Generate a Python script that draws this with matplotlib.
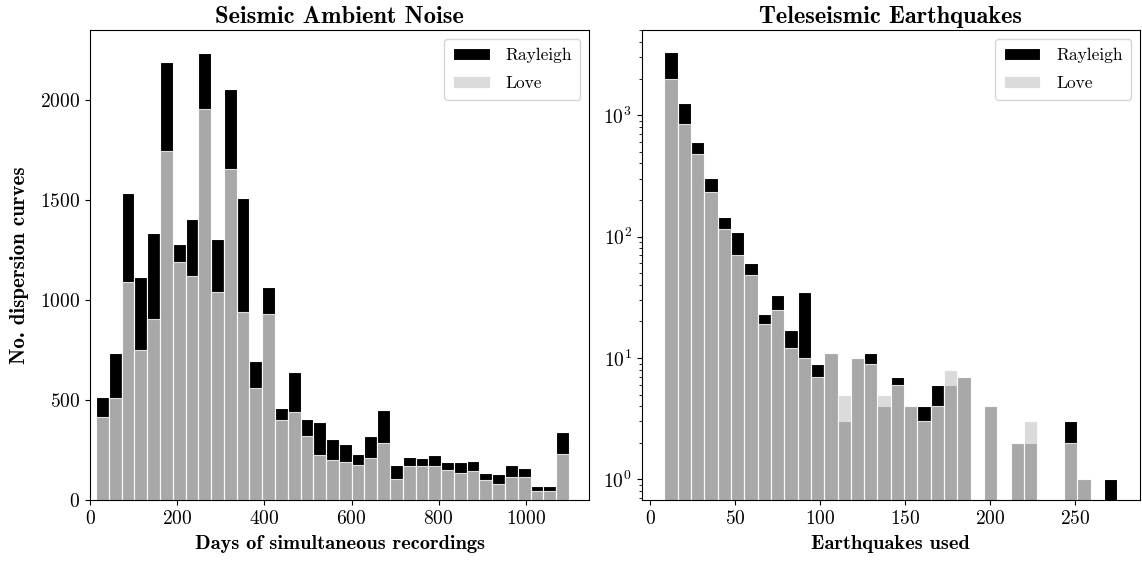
import numpy as np
import matplotlib
matplotlib.use("Agg")
import matplotlib.pyplot as plt

plt.rcParams['font.family'] = ['cmr10', 'DejaVu Serif']
plt.rcParams['mathtext.fontset'] = 'cm'
plt.rcParams['axes.formatter.use_mathtext'] = True
plt.rcParams['axes.unicode_minus'] = False

# ---- Data: Seismic ambient noise (days of simultaneous recordings) ----
noise_bin_start = 14.0
noise_bin_end = 1128.0
noise_rayleigh = [518, 737, 1535, 1117, 1335, 2190, 1280, 1405, 2237, 1305, 2055, 1510,
                  695, 1067, 462, 640, 408, 390, 305, 280, 232, 320, 452, 177, 215, 213,
                  227, 193, 190, 197, 135, 132, 177, 162, 73, 73, 342, 0]
noise_love = [418, 512, 1093, 752, 905, 1747, 1190, 1120, 1955, 1042, 1657, 943,
              560, 932, 402, 442, 320, 227, 202, 192, 178, 212, 287, 108, 172, 172,
              172, 152, 138, 148, 102, 80, 118, 118, 48, 48, 232, 7]

# ---- Data: Teleseismic earthquakes (earthquakes used) ----
eq_bin_start = 8.3
eq_bin_end = 275.0
eq_rayleigh = [3305, 1248, 603, 301, 145, 109, 60, 23, 33, 17, 35, 9, 11, 3, 10, 11, 4,
               7, 4, 4, 6, 6, 7, 0, 4, 0, 2, 2, 0, 0, 3, 1, 0, 1]
eq_love = [1980, 848, 477, 233, 115, 70, 48, 19, 25, 12, 10, 7, 11, 5, 10, 9, 5,
           6, 4, 3, 4, 8, 7, 0, 4, 0, 2, 3, 0, 0, 2, 1, 0, 0]

titles = ["Seismic Ambient Noise", "Teleseismic Earthquakes"]
xlabels = ["Days of simultaneous recordings", "Earthquakes used"]
ylabel = "No. dispersion curves"

fig = plt.figure(figsize=(11.42, 5.61), dpi=100)
ax1 = fig.add_axes([0.0788, 0.108, 0.4370, 0.8385])
ax2 = fig.add_axes([0.5619, 0.108, 0.4363, 0.8385])

LOVE_COLOR = '#d3d3d3'
LOVE_ALPHA = 0.8
BOLD = ['cmb10', 'DejaVu Serif']


def draw(ax, start, end, ray, love):
    ray = np.asarray(ray, float)
    love = np.asarray(love, float)
    edges = np.linspace(start, end, len(ray) + 1)
    left = edges[:-1]
    w = np.diff(edges)
    mr = ray > 0
    ml = love > 0
    ax.bar(left[mr], ray[mr], width=w[mr], align='edge', color='black',
           edgecolor='white', linewidth=0.8, label='Rayleigh')
    ax.bar(left[ml], love[ml], width=w[ml], align='edge', color=LOVE_COLOR,
           alpha=LOVE_ALPHA, edgecolor='white', linewidth=0.8, label='Love')


draw(ax1, noise_bin_start, noise_bin_end, noise_rayleigh, noise_love)
draw(ax2, eq_bin_start, eq_bin_end, eq_rayleigh, eq_love)

ax1.set_xlim(0, 1145)
ax1.set_ylim(0, 2351)
ax1.set_yticks([0, 500, 1000, 1500, 2000])
ax1.set_xticks([0, 200, 400, 600, 800, 1000])

ax2.set_yscale('log')
ax2.set_ylim(0.671, 5025)
ax2.set_xlim(-5.0, 288.3)
ax2.set_xticks([0, 50, 100, 150, 200, 250])

for ax, t, xl in zip([ax1, ax2], titles, xlabels):
    ax.set_title(t, fontsize=17.6, family=BOLD, pad=5)
    ax.set_xlabel(xl, fontsize=14.7, family=BOLD, labelpad=5)
    ax.tick_params(labelsize=14)
    ax.legend(loc='upper right', fontsize=12.5, handlelength=2.1,
              borderpad=0.5, labelspacing=0.75, handletextpad=0.9)

ax1.set_ylabel(ylabel, fontsize=15, family=BOLD, labelpad=8)

fig.savefig('out.png', dpi=100)
